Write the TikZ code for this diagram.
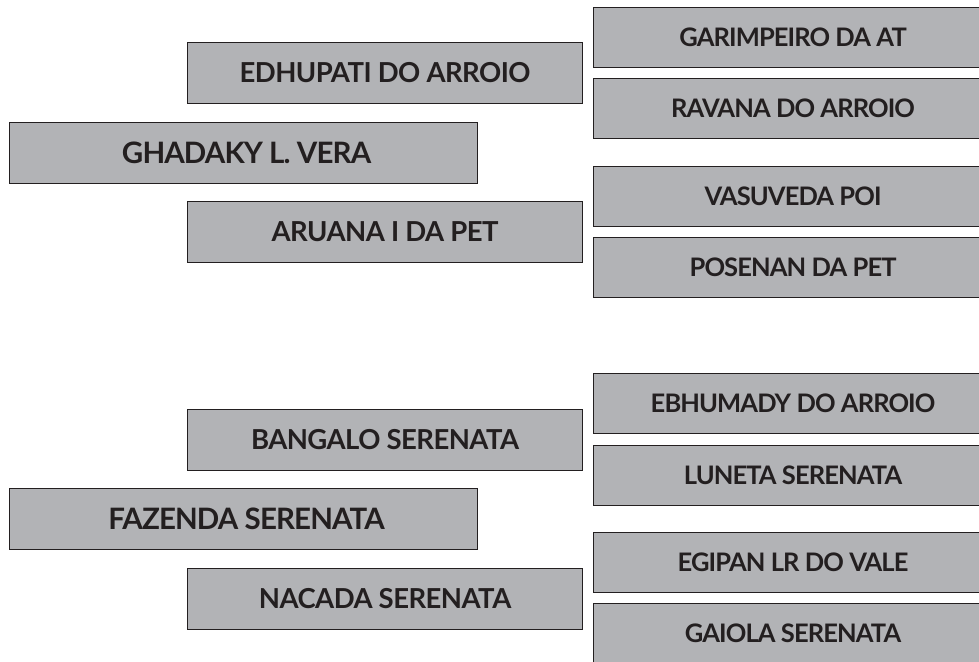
\documentclass[tikz,border=0pt]{standalone}
\usepackage{fontspec}
\setmainfont{Lato}
\definecolor{boxfill}{HTML}{B2B3B6}
\definecolor{boxline}{HTML}{231F20}
\tikzset{
  x=1pt, y=-1pt,
  gbox/.style={draw=boxline, fill=boxfill, line width=1.1pt, rectangle, anchor=north west, inner sep=0pt},
  midbox/.style={gbox, minimum width=395pt, minimum height=61pt},
  leftbox/.style={gbox, minimum width=468pt, minimum height=61pt},
  rightbox/.style={gbox, minimum width=410pt, minimum height=60pt},
  midtxt/.style={text=boxline, font=\bfseries\fontsize{27.5}{30}\selectfont\addfontfeatures{LetterSpace=-2}},
  bigtxt/.style={text=boxline, font=\bfseries\fontsize{29.5}{32}\selectfont\addfontfeatures{LetterSpace=-3}},
  rtxt/.style={text=boxline, font=\bfseries\fontsize{25.5}{28}\selectfont\addfontfeatures{LetterSpace=-3.5}}
}
\begin{document}
\begin{tikzpicture}
\useasboundingbox (0,0) rectangle (979,661);
\clip (0,0) rectangle (979,661);
% left boxes
\node[leftbox] (gh) at (9,122) {};
\node[bigtxt] (ght) at ([xshift=3pt]gh.center) {GHADAKY L. VERA};
\node[leftbox] (fz) at (9,488) {};
\node[bigtxt] (fzt) at ([xshift=3pt]fz.center) {FAZENDA SERENATA};
% middle boxes
\node[midbox] (e1) at (187,42) {};
\node[midtxt] (e1t) at (e1.center) {EDHUPATI DO ARROIO};
\node[midbox] (a1) at (187,201) {};
\node[midtxt] (a1t) at (a1.center) {ARUANA I DA PET};
\node[midbox] (b1) at (187,409) {};
\node[midtxt] (b1t) at (b1.center) {BANGALO SERENATA};
\node[midbox] (n1) at (187,568) {};
\node[midtxt] (n1t) at (n1.center) {NACADA SERENATA};
% right boxes
\node[rightbox] (r1) at (593,7) {};
\node[rtxt] (r1t) at ([xshift=-5.5pt]r1.center) {GARIMPEIRO DA AT};
\node[rightbox] (r2) at (593,78) {};
\node[rtxt] (r2t) at ([xshift=-5.5pt]r2.center) {RAVANA DO ARROIO};
\node[rightbox] (r3) at (593,166) {};
\node[rtxt] (r3t) at ([xshift=-5.5pt]r3.center) {VASUVEDA POI};
\node[rightbox] (r4) at (593,237) {};
\node[rtxt] (r4t) at ([xshift=-5.5pt]r4.center) {POSENAN DA PET};
\node[rightbox] (r5) at (593,373) {};
\node[rtxt] (r5t) at ([xshift=-5.5pt]r5.center) {EBHUMADY DO ARROIO};
\node[rightbox] (r6) at (593,445) {};
\node[rtxt] (r6t) at ([xshift=-5.5pt]r6.center) {LUNETA SERENATA};
\node[rightbox] (r7) at (593,532) {};
\node[rtxt] (r7t) at ([xshift=-5.5pt]r7.center) {EGIPAN LR DO VALE};
\node[rightbox] (r8) at (593,603) {};
\node[rtxt] (r8t) at ([xshift=-5.5pt]r8.center) {GAIOLA SERENATA};
\end{tikzpicture}
\end{document}
